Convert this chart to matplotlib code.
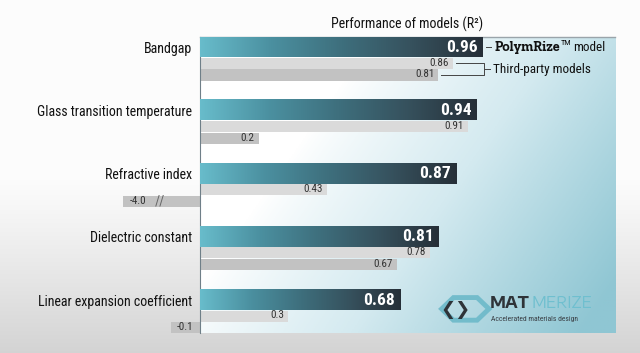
import numpy as np
import matplotlib
matplotlib.use("Agg")
import matplotlib.pyplot as plt
from matplotlib.colors import LinearSegmentedColormap
from matplotlib.patches import RegularPolygon
from matplotlib.transforms import offset_copy

# data
properties = ["Bandgap", "Glass transition temperature", "Refractive index",
              "Dielectric constant", "Linear expansion coefficient"]
polymrize = [0.96, 0.94, 0.87, 0.81, 0.68]
third_a = [0.86, 0.91, 0.43, 0.78, 0.3]
third_b = [0.81, 0.2, -4.0, 0.67, -0.1]
BREAK_AT = -0.26  # long negative bars are cut here

plt.rcParams["font.family"] = ["Roboto Condensed", "DejaVu Sans"]

fig = plt.figure(figsize=(6.4, 3.53), dpi=100)

# slide background: white fading to grey at the bottom
bg = fig.add_axes([0, 0, 1, 1], zorder=-10)
g = np.linspace(0, 1, 200)[:, None]
g = np.clip((g - 0.5) / 0.5, 0, 1) ** 1.1
bg.imshow(np.dstack([0.99 - 0.16 * g] * 3), aspect="auto", extent=[0, 1, 1, 0])
bg.set_axis_off()

ax = fig.add_axes([0.3125, 0.057, 0.6485, 0.838])
XMAX = 1.41
ax.set_xlim(0, XMAX)
ax.set_ylim(4.52, -0.16)

# panel gradient
xx, yy = np.meshgrid(np.linspace(0, 1, 300), np.linspace(0, 1, 300))
z = np.clip(1.0 * (xx - 0.42) + 0.5 * yy, 0, 1) ** 0.85
panel = LinearSegmentedColormap.from_list("panel", ["#ffffff", "#d4eaf0", "#8fc6d3"])
ax.imshow(z, cmap=panel, aspect="auto", extent=[0, XMAX, 4.52, -0.16], zorder=0)

bar_cmap = LinearSegmentedColormap.from_list(
    "bar", ["#68bccb", "#4b90a0", "#3e6f7d", "#36515d", "#262f38"])
grad = np.linspace(0, 1, 256)[None, :]

y = np.arange(len(properties))
H_MAIN, H_TP = 0.32, 0.175
OFF_A, OFF_B = 0.255, 0.44

for i, v in enumerate(polymrize):
    ax.imshow(grad, cmap=bar_cmap, aspect="auto",
              extent=[0, v, y[i] + H_MAIN / 2, y[i] - H_MAIN / 2], zorder=3)
    ax.annotate(f"{v:.2f}", (v, y[i]), xytext=(-3.5, 0), textcoords="offset points",
                ha="right", va="center", color="white", fontsize=12.5,
                fontweight="bold", zorder=5)

ax.barh(y + OFF_A, third_a, height=H_TP, color="#dadada", zorder=2)
shown_b = [max(v, BREAK_AT) for v in third_b]
ax.barh(y + OFF_B, shown_b, height=H_TP, color="#c2c2c2", zorder=2, clip_on=False)

for i in range(len(properties)):
    for v, shown, off in ((third_a[i], third_a[i], OFF_A), (third_b[i], shown_b[i], OFF_B)):
        if v >= 0:
            ax.annotate(f"{v:g}", (v, y[i] + off), xytext=(-3, 0.5),
                        textcoords="offset points", ha="right", va="center",
                        fontsize=8, color="#333333", zorder=5)
        else:
            ax.annotate(f"{v:.1f}", (shown, y[i] + off), xytext=(4.5, 0.5),
                        textcoords="offset points", ha="left", va="center",
                        fontsize=8, color="#333333", zorder=5, annotation_clip=False)
    if third_b[i] < BREAK_AT:
        # axis-break mark on the cut bar
        ax.text(BREAK_AT * 0.53, y[i] + OFF_B, "//", ha="center", va="center",
                fontsize=10, color="#666666", zorder=5)

ax.set_yticks(y, properties)
ax.tick_params(axis="y", length=0, pad=6, labelsize=10, labelcolor="#111111")
ax.set_xticks([])
for s in ("right", "bottom"):
    ax.spines[s].set_visible(False)
ax.spines["left"].set_color("#6f7f88")
ax.spines["left"].set_linewidth(0.8)
ax.spines["top"].set_color("#9aa4aa")
ax.spines["top"].set_linewidth(1.0)
ax.set_title("Performance of models (R\u00b2)", fontsize=10, color="#111111", pad=6)

# legend callouts
lc = dict(color="#444444", lw=0.7, clip_on=False, zorder=4)
xl = polymrize[0] + 0.01
ax.plot([xl, xl + 0.02], [y[0], y[0]], **lc)
t1 = ax.text(xl + 0.03, y[0], "PolymRize", family="Zilla Slab", fontweight="bold",
             fontsize=10, va="center", ha="left", color="#111111")
fig.canvas.draw()
w = t1.get_window_extent().width
t2 = ax.text(xl + 0.03, y[0] - 0.07, "TM", fontsize=6, va="center", ha="left",
             color="#111111", transform=offset_copy(ax.transData, fig, x=w + 0.5, units="dots"))
fig.canvas.draw()
w2 = t2.get_window_extent().width
ax.text(xl + 0.03, y[0], "model", fontsize=9.5, va="center", ha="left", color="#111111",
        transform=offset_copy(ax.transData, fig, x=w + w2 + 3, units="dots"))
xb = 0.965
ax.plot([third_a[0] + 0.01, xb, xb, third_b[0] + 0.01],
        [OFF_A, OFF_A, OFF_B, OFF_B], **lc)
ax.plot([xb, xb + 0.02], [(OFF_A + OFF_B) / 2] * 2, **lc)
ax.text(xb + 0.03, (OFF_A + OFF_B) / 2, "Third-party models", fontsize=9.5,
        va="center", ha="left", color="#111111")

# logo
fig.patches.append(RegularPolygon((0.727, 0.125), 6, radius=0.037, orientation=np.pi / 6,
                                  transform=fig.transFigure, facecolor="none",
                                  edgecolor="#6cb9c9", lw=3.5, alpha=0.9))
fig.text(0.712, 0.122, "\u276e\u276f", ha="center", va="center", fontsize=13,
         color="#2e3338", family="DejaVu Sans", fontweight="bold")
m1 = fig.text(0.765, 0.14, "MAT", fontsize=11, color="#2e3338",
              family="Encode Sans Expanded", va="center", fontweight="bold")
fig.canvas.draw()
wm = m1.get_window_extent().width
fig.text(0.765 + (wm + 2) / 640, 0.14, "MERIZE", fontsize=11, color="#6fbfcf",
         family="Encode Sans Expanded", va="center")
fig.text(0.767, 0.097, "Accelerated materials design", fontsize=5.5, color="#3a3f45",
         va="center")

fig.savefig("out.png", dpi=100)
